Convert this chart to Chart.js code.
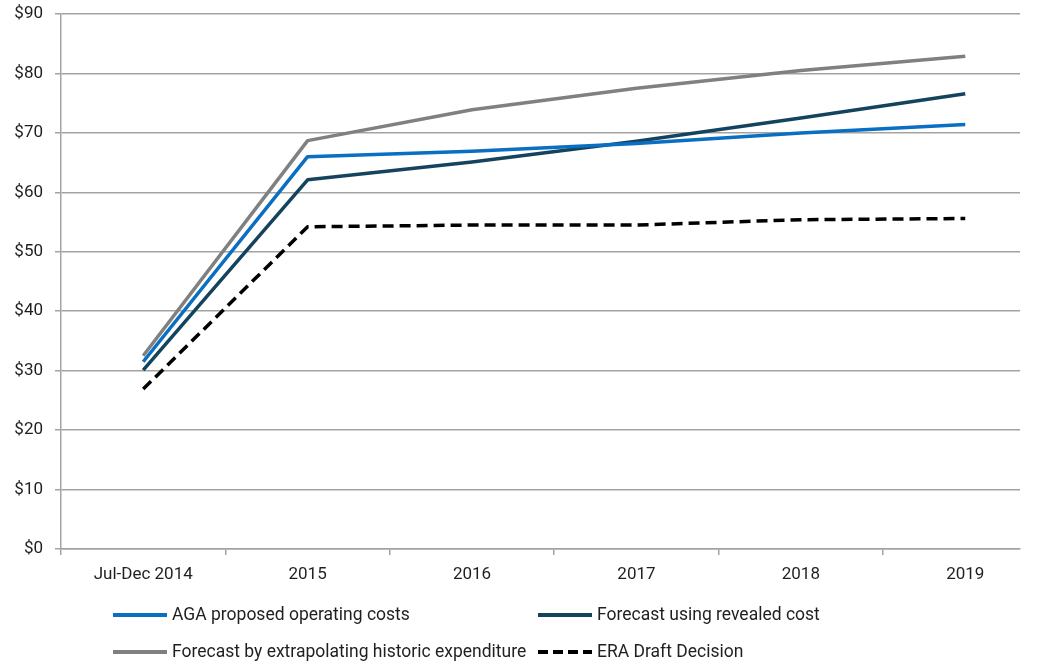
<!DOCTYPE html>
<html>
<head>
<meta charset="utf-8">
<script src="https://cdn.jsdelivr.net/npm/chart.js@4/dist/chart.umd.min.js"></script>
<style>
  html, body { margin: 0; padding: 0; background: #ffffff; }
  #wrap { width: 1037px; height: 662px; position: relative; }
</style>
</head>
<body>
<div id="wrap"><canvas id="chart"></canvas></div>
<script>
// Operating cost forecasts ($ million)
const categories = ['Jul-Dec 2014', '2015', '2016', '2017', '2018', '2019'];
const agaProposed = [31.5, 66.0, 66.9, 68.2, 70.0, 71.4];
const revealedCost = [30.1, 62.1, 65.1, 68.6, 72.5, 76.6];
const extrapolated = [32.5, 68.7, 73.9, 77.5, 80.5, 82.9];
const eraDraft = [26.9, 54.2, 54.5, 54.5, 55.4, 55.6];
const seriesNames = [
  'AGA proposed operating costs',
  'Forecast using revealed cost',
  'Forecast by extrapolating historic expenditure',
  'ERA Draft Decision'
];
const yMin = 0, yMax = 90, yStep = 10;

const FONT = 'Roboto, "Liberation Sans", sans-serif';
const TEXT = '#1f1f1f';
const GRID = '#a3a3a3';

const toPoints = arr => arr.map((v, i) => ({ x: i, y: v }));

function lineSet(label, values, color, dash) {
  return {
    label,
    data: toPoints(values),
    borderColor: color,
    backgroundColor: color,
    borderWidth: 3.5,
    borderDash: dash || [],
    borderCapStyle: 'butt',
    borderJoinStyle: 'round',
    pointRadius: 0,
    pointHoverRadius: 0,
    tension: 0,
    fill: false
  };
}

// Two-column legend drawn under the axis
const gridLegend = {
  id: 'gridLegend',
  afterDraw(chart) {
    const ctx = chart.ctx;
    const cols = [113, 538];
    const rows = [615, 652];
    const lineLen = 54;
    ctx.save();
    ctx.font = '17.5px ' + FONT;
    ctx.textBaseline = 'middle';
    ctx.fillStyle = TEXT;
    chart.data.datasets.forEach((ds, i) => {
      const x = cols[i % 2];
      const y = rows[Math.floor(i / 2)];
      ctx.beginPath();
      ctx.strokeStyle = ds.borderColor;
      ctx.lineWidth = 4;
      ctx.setLineDash(ds.borderDash && ds.borderDash.length ? [10, 5] : []);
      ctx.moveTo(x, y);
      ctx.lineTo(x + lineLen, y);
      ctx.stroke();
      ctx.setLineDash([]);
      ctx.fillText(ds.label, x + lineLen + 5, y + 1);
    });
    ctx.restore();
  }
};

new Chart(document.getElementById('chart'), {
  type: 'line',
  data: {
    datasets: [
      lineSet(seriesNames[0], agaProposed, '#0a6fc2'),
      lineSet(seriesNames[1], revealedCost, '#14445d'),
      lineSet(seriesNames[2], extrapolated, '#808080'),
      lineSet(seriesNames[3], eraDraft, '#000000', [11, 6])
    ]
  },
  options: {
    responsive: true,
    maintainAspectRatio: false,
    animation: false,
    layout: { padding: { top: 14, right: 17, left: 0, bottom: 0 } },
    plugins: {
      legend: { display: false },
      tooltip: { enabled: false }
    },
    scales: {
      x: {
        type: 'linear',
        min: -0.5,
        max: 5.333,
        afterBuildTicks(scale) {
          const t = [];
          for (let v = -0.5; v <= 5; v += 0.5) t.push({ value: v });
          scale.ticks = t;
        },
        afterFit(scale) {
          scale.height = 113;
          scale.paddingLeft = 0;
          scale.paddingRight = 0;
        },
        grid: {
          drawOnChartArea: false,
          drawTicks: true,
          tickLength: 6,
          lineWidth: 1.5,
          color: c => (c.tick && Number.isInteger(c.tick.value)) ? 'rgba(0,0,0,0)' : GRID
        },
        border: { display: true, color: GRID, width: 1.5 },
        ticks: {
          autoSkip: false,
          maxRotation: 0,
          minRotation: 0,
          padding: 10,
          color: TEXT,
          font: { family: FONT, size: 17 },
          callback: v => Number.isInteger(v) ? categories[v] : ''
        }
      },
      y: {
        min: yMin,
        max: yMax,
        afterFit(scale) {
          scale.width = 61;
          scale.paddingTop = 0;
          scale.paddingBottom = 0;
        },
        grid: {
          color: GRID,
          lineWidth: 1.5,
          drawTicks: true,
          tickLength: 6
        },
        border: { display: true, color: GRID, width: 1.5 },
        ticks: {
          stepSize: yStep,
          padding: 12,
          color: TEXT,
          font: { family: FONT, size: 17 },
          callback: v => '$' + v
        }
      }
    }
  },
  plugins: [gridLegend]
});
</script>
</body>
</html>
